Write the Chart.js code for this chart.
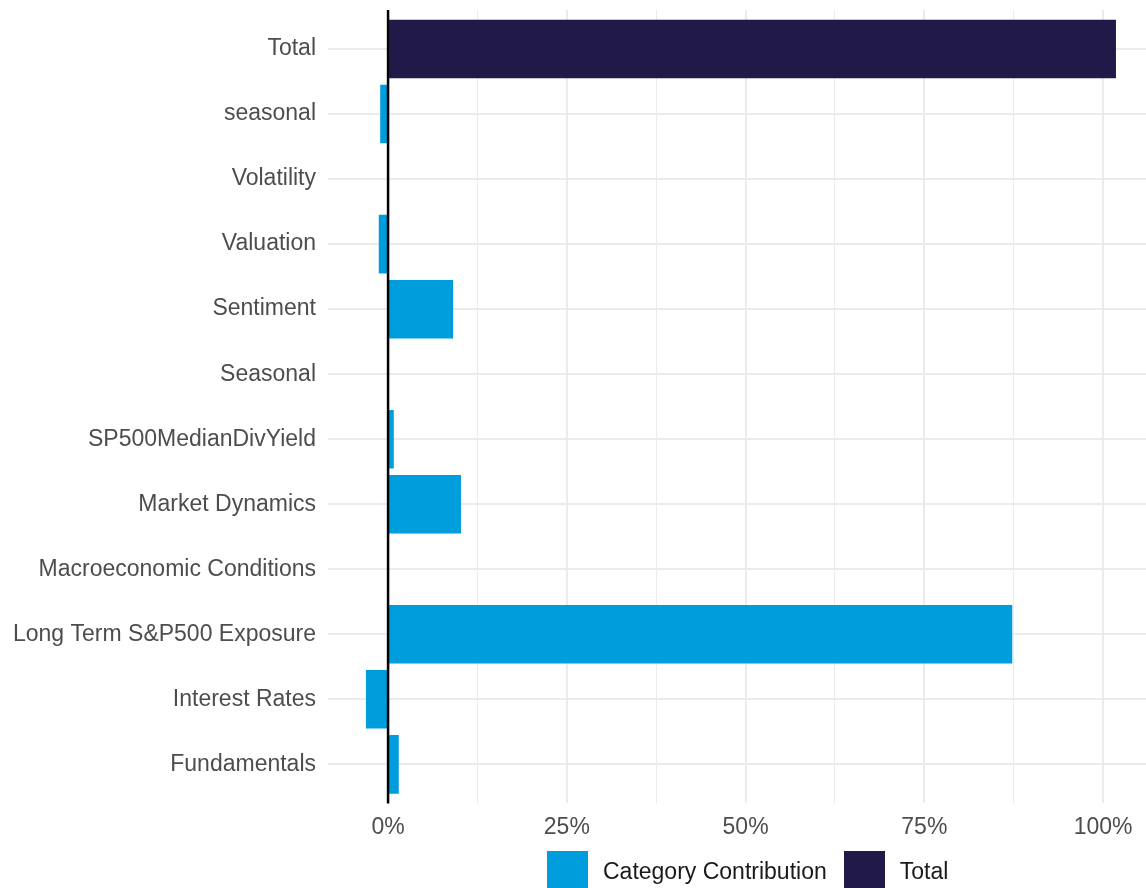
<!DOCTYPE html>
<html>
<head>
<meta charset="utf-8">
<script src="https://cdn.jsdelivr.net/npm/chart.js@4.4.1/dist/chart.umd.min.js"></script>
<style>
  html, body { margin: 0; padding: 0; background: #fff; overflow: hidden; }
  #wrap { position: relative; width: 1146px; height: 888px; }
  #legend {
    position: absolute; left: 547px; top: 851px;
    display: flex; align-items: center;
    font-family: "Liberation Sans", Arial, sans-serif; font-size: 23px; color: #1a1a1a;
  }
  .item { display: flex; align-items: center; margin-right: 17px; }
  .box { width: 41px; height: 40px; margin-right: 15px; }
</style>
</head>
<body>
<div id="wrap">
  <canvas id="contribChart"></canvas>
  <div id="legend"></div>
</div>
<script>
// Categories, top to bottom
const categories = [
    'Total', 'seasonal', 'Volatility', 'Valuation', 'Sentiment', 'Seasonal',
    'SP500MedianDivYield', 'Market Dynamics', 'Macroeconomic Conditions',
    'Long Term S&P500 Exposure', 'Interest Rates', 'Fundamentals'
];

// Contribution in percent (null = not in this series)
const contribution = [null, -1.1, 0, -1.3, 9.1, -0.1, 0.8, 10.2, 0, 87.3, -3.1, 1.5];
const totalValue   = [101.8, null, null, null, null, null, null, null, null, null, null, null];

const xTicks = [0, 25, 50, 75, 100];
const xGrid = [0, 12.5, 25, 37.5, 50, 62.5, 75, 87.5, 100];

const colors = {
    contribution: '#009ddc',
    total: '#211948',
    grid: '#ebebeb',
    text: '#4d4d4d'
};

const FONT = '"Liberation Sans", Arial, sans-serif';

function toPoints(values) {
    const pts = [];
    values.forEach((v, i) => {
        if (v !== null) pts.push({ x: v, y: i });
    });
    return pts;
}

// black vertical line at 0%
const zeroLine = {
    id: 'zeroLine',
    afterDatasetsDraw(chart) {
        const { ctx, chartArea, scales } = chart;
        const x = scales.x.getPixelForValue(0);
        ctx.save();
        ctx.strokeStyle = '#000';
        ctx.lineWidth = 2.5;
        ctx.beginPath();
        ctx.moveTo(x, chartArea.top);
        ctx.lineTo(x, chartArea.bottom);
        ctx.stroke();
        ctx.restore();
    }
};

const ctx = document.getElementById('contribChart').getContext('2d');

const chart = new Chart(ctx, {
    type: 'bar',
    data: {
        datasets: [{
            label: 'Category Contribution',
            data: toPoints(contribution),
            backgroundColor: colors.contribution,
            borderWidth: 0,
            grouped: false,
            barPercentage: 0.9,
            categoryPercentage: 1.0
        }, {
            label: 'Total',
            data: toPoints(totalValue),
            backgroundColor: colors.total,
            borderWidth: 0,
            grouped: false,
            barPercentage: 0.9,
            categoryPercentage: 1.0
        }]
    },
    options: {
        indexAxis: 'y',
        responsive: true,
        maintainAspectRatio: false,
        animation: false,
        layout: {
            padding: { top: 10, right: 0, bottom: 37, left: 0 }
        },
        plugins: {
            legend: { display: false },
            tooltip: { enabled: false }
        },
        scales: {
            x: {
                type: 'linear',
                min: -8.4,
                max: 106,
                border: { display: false },
                grid: {
                    color: colors.grid,
                    drawTicks: false,
                    lineWidth: c => (xTicks.includes(c.tick.value) ? 2 : 1)
                },
                afterBuildTicks: scale => {
                    scale.ticks = xGrid.map(v => ({ value: v }));
                },
                afterFit: scale => {
                    scale.paddingLeft = 0;
                    scale.paddingRight = 0;
                },
                ticks: {
                    autoSkip: false,
                    maxRotation: 0,
                    padding: 10,
                    color: colors.text,
                    font: { family: FONT, size: 23 },
                    callback: v => (xTicks.includes(v) ? v + '%' : '')
                }
            },
            y: {
                type: 'linear',
                reverse: true,
                offset: false,
                min: -0.6,
                max: categories.length - 0.4,
                border: { display: false },
                grid: {
                    offset: false,
                    color: colors.grid,
                    lineWidth: 2,
                    drawTicks: false
                },
                afterBuildTicks: scale => {
                    scale.ticks = categories.map((c, i) => ({ value: i }));
                },
                afterFit: scale => {
                    scale.width = 328;
                    scale.paddingTop = 0;
                    scale.paddingBottom = 0;
                },
                ticks: {
                    autoSkip: false,
                    padding: 12,
                    color: colors.text,
                    font: { family: FONT, size: 23 },
                    callback: v => categories[v]
                }
            }
        }
    },
    plugins: [zeroLine]
});

// legend in html, from the datasets
const legendEl = document.getElementById('legend');
chart.data.datasets.forEach(ds => {
    const item = document.createElement('div');
    item.className = 'item';
    item.innerHTML = `<div class="box" style="background:${ds.backgroundColor}"></div><span>${ds.label}</span>`;
    legendEl.appendChild(item);
});
</script>
</body>
</html>
